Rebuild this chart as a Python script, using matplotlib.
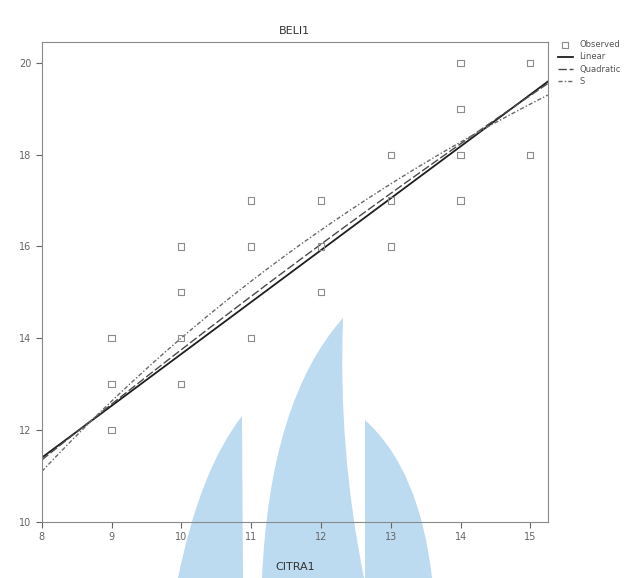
import numpy as np
import matplotlib
matplotlib.use("Agg")
import matplotlib.pyplot as plt
from matplotlib.patches import PathPatch
from matplotlib.path import Path

# observed scores
citra1 = [14, 15, 14, 14, 13, 15, 11, 12, 13, 14, 10, 11, 12, 13, 10, 12, 9, 10, 11, 9, 10, 9]
beli1 = [20, 20, 19, 18, 18, 18, 17, 17, 17, 17, 16, 16, 16, 16, 15, 15, 14, 14, 14, 13, 13, 12]

# fitted curves, coefficients
linear_coef = [2.36, 1.13]               # b0 + b1*x
quad_coef = [0.651, 1.4456, -0.01353]    # b0 + b1*x + b2*x^2
s_coef = [3.5704, -9.308]                # exp(b0 + b1/x)

x_ticks = [8, 9, 10, 11, 12, 13, 14, 15]
y_ticks = [10, 12, 14, 16, 18, 20]

fig = plt.figure(figsize=(6.43, 5.78), dpi=100)

# faint logo watermark behind the chart (figure pixel coords)
W, H = 643, 578
def wm_patch(verts, codes):
    pts = [(a / W, 1 - b / H) for a, b in verts]
    return PathPatch(Path(pts, codes), transform=fig.transFigure,
                     facecolor="#bcdaf0", edgecolor="none", zorder=-5)

M, C, L, Z = Path.MOVETO, Path.CURVE3, Path.LINETO, Path.CLOSEPOLY
fig.patches.append(wm_patch(
    [(178, 578), (200, 470), (242, 416), (243, 578), (178, 578)],
    [M, C, C, L, Z]))
fig.patches.append(wm_patch(
    [(262, 578), (270, 400), (343, 318), (338, 450), (364, 578), (262, 578)],
    [M, C, C, C, C, Z]))
fig.patches.append(wm_patch(
    [(365, 578), (365, 420), (365, 420), (420, 470), (432, 578), (365, 578)],
    [M, L, L, C, C, Z]))

ax = fig.add_axes([0.065, 0.097, 0.787, 0.83])
ax.set_facecolor("none")
ax.set_zorder(2)

ax.scatter(citra1, beli1, s=20, marker="s", facecolors="none", edgecolors="#8c8c8c",
           linewidths=0.8, label="Observed", zorder=3)

xs = np.linspace(8, 15.25, 200)
ax.plot(xs, linear_coef[0] + linear_coef[1] * xs, color="#1e1e1e", lw=1.3,
        label="Linear", zorder=2)
ax.plot(xs, quad_coef[0] + quad_coef[1] * xs + quad_coef[2] * xs ** 2,
        color="#4a4a4a", lw=1.0, ls=(0, (6, 2)), label="Quadratic", zorder=2)
ax.plot(xs, np.exp(s_coef[0] + s_coef[1] / xs), color="#6a6a6a", lw=1.0,
        ls=(0, (3, 1.5, 1, 1.5)), label="S", zorder=2)

ax.set_xlim(8, 15.25)
ax.set_ylim(10, 20.45)
ax.set_xticks(x_ticks)
ax.set_yticks(y_ticks)
ax.tick_params(labelsize=7, colors="#666666", length=4)
for sp in ax.spines.values():
    sp.set_color("#8a8a8a")

ax.set_title("BELI1", fontsize=8, color="#333333", pad=6)
ax.set_xlabel("CITRA1", fontsize=8, color="#333333", labelpad=14)

ax.legend(loc="upper left", bbox_to_anchor=(1.005, 1.02), fontsize=6,
          frameon=False, handlelength=1.8, labelspacing=0.4,
          labelcolor="#555555")

fig.savefig("out.png", dpi=100)
